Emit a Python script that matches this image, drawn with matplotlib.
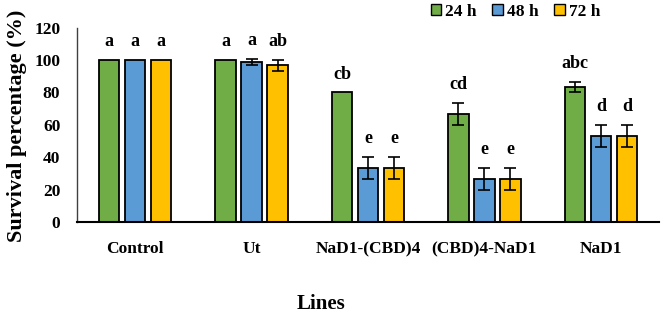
import matplotlib
matplotlib.use("Agg")
import matplotlib.pyplot as plt
import numpy as np
from matplotlib.patches import Patch

categories = ["Control", "Ut", "NaD1-(CBD)4", "(CBD)4-NaD1", "NaD1"]
series_names = ["24 h", "48 h", "72 h"]
values_24 = [100, 100, 80, 66.7, 83.3]
values_48 = [100, 98.9, 33.3, 26.7, 53.3]
values_72 = [100, 96.7, 33.3, 26.7, 53.3]
err_24 = [0, 0, 0, 6.7, 3.3]
err_48 = [0, 1.7, 6.7, 6.7, 6.7]
err_72 = [0, 3.3, 6.7, 6.7, 6.7]
letters_24 = ["a", "a", "cb", "cd", "abc"]
letters_48 = ["a", "a", "e", "e", "d"]
letters_72 = ["a", "ab", "e", "e", "d"]
yticks = [0, 20, 40, 60, 80, 100, 120]

colors = ["#70AD47", "#5B9BD5", "#FFC000"]

plt.rcParams['font.family'] = ['Liberation Serif', 'DejaVu Serif']
plt.rcParams['font.weight'] = 'bold'

fig = plt.figure(figsize=(6.61, 3.14), dpi=100)
ax = fig.add_axes([0.1165, 0.293, 0.8805, 0.619])

x = np.arange(len(categories))
width = 0.176
step = 0.223
all_vals = [values_24, values_48, values_72]
all_errs = [err_24, err_48, err_72]
all_lets = [letters_24, letters_48, letters_72]
for i in range(3):
    pos = x + (i - 1) * step
    ax.bar(pos, all_vals[i], width, color=colors[i], edgecolor="black", linewidth=1.3, zorder=2)
    errs = np.array(all_errs[i])
    mask = errs > 0
    ax.errorbar(pos[mask], np.array(all_vals[i])[mask], yerr=errs[mask], fmt="none",
                ecolor="black", elinewidth=1.2, capsize=4, capthick=1.2, zorder=3)
    for p, v, e, t in zip(pos, all_vals[i], errs, all_lets[i]):
        ax.annotate(t, (p, v + e), xytext=(0, 7), textcoords="offset points",
                    ha="center", va="bottom", fontsize=13, fontweight="bold")

ax.set_xlim(-0.5, 4.5)
ax.set_ylim(0, 120)
ax.set_yticks(yticks)
ax.set_xticks(x)
ax.set_xticklabels(categories)
ax.tick_params(axis="y", length=0, pad=12, labelsize=12.5)
ax.tick_params(axis="x", length=0, pad=14, labelsize=12.5)
for lab in ax.get_xticklabels() + ax.get_yticklabels():
    lab.set_fontweight("bold")
ax.spines["top"].set_visible(False)
ax.spines["right"].set_visible(False)
ax.spines["left"].set_color("#404040")
ax.spines["left"].set_linewidth(1.0)
ax.spines["bottom"].set_color("black")
ax.spines["bottom"].set_linewidth(1.5)

fig.text(0.025, 0.60, "Survival percentage (%)", rotation=90, ha="center", va="center",
         fontsize=16, fontweight="bold")
fig.text(0.486, 0.032, "Lines", ha="center", va="center", fontsize=15, fontweight="bold")

handles = [Patch(facecolor=c, edgecolor="black", linewidth=1.0) for c in colors]
fig.legend(handles, series_names, loc="center", bbox_to_anchor=(0.78, 0.962), ncol=3,
           frameon=False, fontsize=12.5, handlelength=0.6, handleheight=0.6,
           handletextpad=0.25, columnspacing=0.9, borderaxespad=0)

fig.savefig("out.png", dpi=100)
